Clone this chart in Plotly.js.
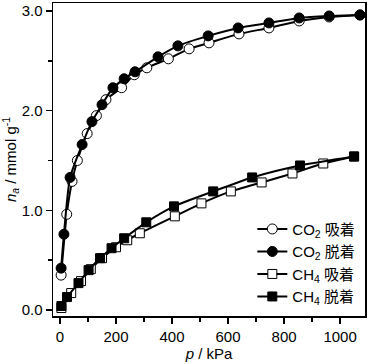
<!DOCTYPE html>
<html><head><meta charset="utf-8">
<script src="https://cdn.plot.ly/plotly-3.0.1.min.js"></script>
<style>body{margin:0;background:#fff}#chart{width:370px;height:364px}</style>
</head><body><div id="chart"></div>
<script>
// CO2 adsorption (open circles)
const co2AdsP = [4, 24, 43, 62, 97, 130, 164, 220, 265, 310, 387, 461, 532, 639, 746, 854, 961, 1071];
const co2AdsN = [0.35, 0.96, 1.29, 1.50, 1.77, 1.95, 2.11, 2.23, 2.36, 2.43, 2.52, 2.62, 2.68, 2.77, 2.83, 2.90, 2.94, 2.96];
// CO2 desorption (filled circles)
const co2DesP = [1071, 961, 854, 746, 636, 529, 421, 350, 268, 229, 189, 150, 114, 79, 36, 14, 4];
const co2DesN = [2.96, 2.95, 2.93, 2.88, 2.83, 2.75, 2.65, 2.54, 2.39, 2.32, 2.23, 2.06, 1.89, 1.66, 1.33, 0.76, 0.42];
// CH4 adsorption (open squares)
const ch4AdsP = [5, 40, 75, 110, 150, 200, 240, 285, 410, 505, 610, 720, 830, 940, 1050];
const ch4AdsN = [0.02, 0.17, 0.29, 0.41, 0.52, 0.63, 0.70, 0.77, 0.94, 1.07, 1.19, 1.28, 1.37, 1.47, 1.54];
// CH4 desorption (filled squares)
const ch4DesP = [1050, 857, 686, 547, 407, 308, 229, 184, 143, 102, 66, 25, 5];
const ch4DesN = [1.54, 1.45, 1.33, 1.19, 1.04, 0.88, 0.72, 0.62, 0.52, 0.40, 0.27, 0.13, 0.04];

const names = ['CO<sub>2</sub> 吸着', 'CO<sub>2</sub> 脱着', 'CH<sub>4</sub> 吸着', 'CH<sub>4</sub> 脱着'];
const xTickVals = [0, 200, 400, 600, 800, 1000];
const yTickVals = [0, 1, 2, 3];

const FONT = 'Liberation Sans, Arial, Noto Sans CJK JP, sans-serif';
function tr(x, y, name, fill, symbol, size, group) {
  return {
    x: x, y: y, name: name, type: 'scatter', mode: 'lines+markers',
    legendgroup: group,
    line: {color: '#000', width: 2, shape: 'spline', smoothing: 0.6},
    marker: {symbol: symbol, size: size, color: fill, line: {color: '#000', width: 1}}
  };
}
const data = [
  tr(co2AdsP, co2AdsN, names[0], '#fff', 'circle', 10, 'a'),
  tr(co2DesP, co2DesN, names[1], '#000', 'circle', 10, 'b'),
  tr(ch4AdsP, ch4AdsN, names[2], '#fff', 'square', 9, 'c'),
  tr(ch4DesP, ch4DesN, names[3], '#000', 'square', 9, 'd')
];

const axisCommon = {
  showline: true, linecolor: '#000', linewidth: 1.5, mirror: true,
  ticks: 'outside', ticklen: 6, tickwidth: 1.5, tickcolor: '#000',
  showgrid: false, zeroline: false,
  tickfont: {family: FONT, size: 15, color: '#000'}
};
const layout = {
  width: 370, height: 364,
  margin: {l: 53, r: 5, t: 3, b: 48},
  paper_bgcolor: '#fff', plot_bgcolor: '#fff',
  font: {family: FONT, color: '#000'},
  showlegend: true,
  legend: {x: 0.985, y: 0.33, xanchor: 'right', yanchor: 'top', bgcolor: 'rgba(0,0,0,0)',
           font: {family: FONT, size: 15, color: '#000'}, traceorder: 'grouped', tracegroupgap: 0,
           itemwidth: 30},
  xaxis: Object.assign({}, axisCommon, {
    range: [-25, 1089], tickvals: xTickVals, ticktext: xTickVals.map(String),
    minor: {dtick: 100, tick0: 0, ticks: 'outside', ticklen: 4, tickwidth: 1.5, tickcolor: '#000'},
    title: {text: '<i>p</i> / kPa', font: {family: FONT, size: 15, color: '#000'}, standoff: 3}
  }),
  yaxis: Object.assign({}, axisCommon, {
    range: [-0.06, 3.08], tickvals: yTickVals, ticktext: yTickVals.map(v => v.toFixed(1)),
    minor: {dtick: 0.5, tick0: 0, ticks: 'outside', ticklen: 4, tickwidth: 1.5, tickcolor: '#000'},
    title: {text: '<i>n</i><sub><i>a</i></sub> / mmol g<sup>-1</sup>', font: {family: FONT, size: 15, color: '#000'}, standoff: 7}
  })
};
Plotly.newPlot('chart', data, layout, {staticPlot: true, displayModeBar: false});
</script></body></html>
